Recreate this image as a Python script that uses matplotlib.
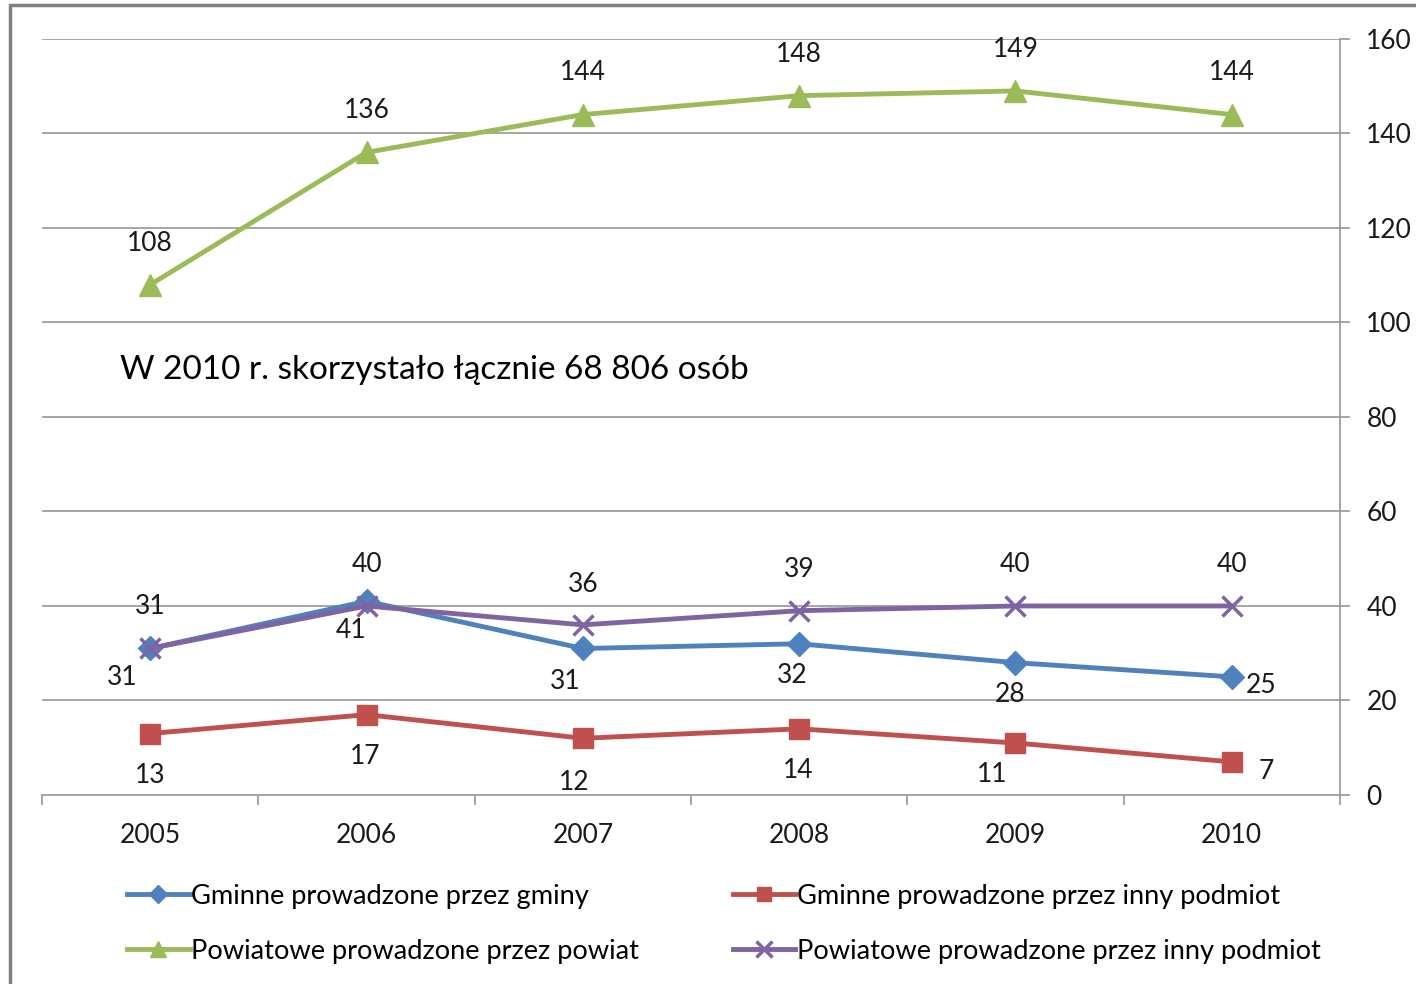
import matplotlib.pyplot as plt
import matplotlib.patches as patches

years = ['2005', '2006', '2007', '2008', '2009', '2010']
gminne_gminy = [31, 41, 31, 32, 28, 25]
gminne_inny = [13, 17, 12, 14, 11, 7]
powiatowe_powiat = [108, 136, 144, 148, 149, 144]
powiatowe_inny = [31, 40, 36, 39, 40, 40]

labels = ['Gminne prowadzone przez gminy',
          'Powiatowe prowadzone przez powiat',
          'Gminne prowadzone przez inny podmiot',
          'Powiatowe prowadzone przez inny podmiot']
note = 'W 2010 r. skorzystało łącznie 68 806 osób'

plt.rcParams['font.family'] = ['Lato', 'DejaVu Sans']
FS = 19

fig = plt.figure(figsize=(14.16, 9.84), dpi=100)
ax = fig.add_axes([0.0297, 0.1921, 0.9166, 0.7683])

# outer frame of the chart area
fig.patches.append(patches.Rectangle((10 / 1416, -0.02), 1.05, 0.02 + (984 - 5) / 984,
                                     transform=fig.transFigure, fill=False,
                                     edgecolor='#808080', lw=2.5, zorder=0))

x = list(range(len(years)))
grid_c = '#9E9E9E'
for v in range(20, 161, 20):
    ax.axhline(v, color=grid_c, lw=1.3, zorder=1)

l_blue, = ax.plot(x, gminne_gminy, color='#4F81BD', lw=3.5, marker='D', ms=12, zorder=3)
l_green, = ax.plot(x, powiatowe_powiat, color='#9BBB59', lw=3.5, marker='^', ms=16, zorder=3)
l_red, = ax.plot(x, gminne_inny, color='#C0504D', lw=3.5, marker='s', ms=14, zorder=3)
l_purple, = ax.plot(x, powiatowe_inny, color='#8064A2', lw=3.5, marker='x', ms=15, mew=2.5, zorder=4)

# data labels (offsets in points)
off_blue = [(-20, -21), (-11, -21), (-13, -24), (-5, -23), (-4, -23), (21, -6)]
off_red = [(0, -30), (-1, -30), (-6, -32), (-1, -30), (-17, -23), (25, -7)]
off_green = [(0, 30)] * 6
off_purple = [(0, 30), (0, 30), (0, 29), (0, 30), (0, 30), (0, 30)]
for vals, offs in [(gminne_gminy, off_blue), (gminne_inny, off_red),
                   (powiatowe_powiat, off_green), (powiatowe_inny, off_purple)]:
    for i, v in enumerate(vals):
        ax.annotate(str(v), (x[i], v), textcoords='offset points', xytext=offs[i],
                    ha='center', va='center', fontsize=FS, color='#1a1a1a', zorder=5)

ax.text(-0.14, 90, note, fontsize=24, ha='left', va='center', color='black')

ax.set_xlim(-0.5, 5.5)
ax.set_ylim(0, 160)
ax.set_xticks(x)
ax.set_xticklabels(years, fontsize=FS, color='#1a1a1a')
ax.set_xticks([i - 0.5 for i in range(len(years) + 1)], minor=True)
ax.tick_params(axis='x', which='major', length=0, pad=20)
ax.tick_params(axis='x', which='minor', length=7, width=1.3, color=grid_c, direction='out')

ax.yaxis.tick_right()
ax.set_yticks(range(0, 161, 20))
ax.tick_params(axis='y', which='major', length=7, width=1.3, color=grid_c, pad=12,
               labelsize=FS, labelcolor='#1a1a1a')

for s in ['top', 'left']:
    ax.spines[s].set_visible(False)
ax.spines['right'].set_color(grid_c)
ax.spines['right'].set_linewidth(1.3)
ax.spines['bottom'].set_color(grid_c)
ax.spines['bottom'].set_linewidth(1.3)

fig.legend([l_blue, l_green, l_red, l_purple], labels, ncol=2, loc='upper left',
           bbox_to_anchor=(127 / 1416, 1 - 884 / 984), frameon=False, fontsize=19.6,
           handlelength=2.3, handletextpad=0.05, columnspacing=3.45,
           labelspacing=1.1, borderaxespad=0, borderpad=0, markerscale=0.75)

plt.savefig('out.png', dpi=100)
